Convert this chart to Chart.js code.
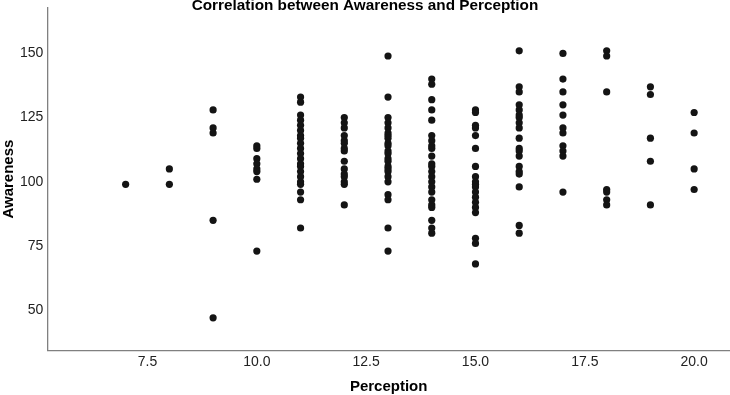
<!DOCTYPE html>
<html>
<head>
<meta charset="utf-8">
<script src="https://cdn.jsdelivr.net/npm/chart.js@4/dist/chart.umd.min.js"></script>
<style>
  html, body { margin: 0; padding: 0; background: #fff; overflow: hidden; }
  #wrap { width: 730px; height: 395px; }
</style>
</head>
<body>
<div id="wrap"><canvas id="c"></canvas></div>
<script>
const chartTitle = 'Correlation between Awareness and Perception';
const xAxisTitle = 'Perception';
const yAxisTitle = 'Awareness';
const xTickValues = [7.5, 10, 12.5, 15, 17.5, 20];
const yTickValues = [50, 75, 100, 125, 150];

const perceptionLevels = [7, 8, 9, 10, 11, 12, 13, 14, 15, 16, 17, 18, 19, 20];
const awareness7 = [99];
const awareness8 = [105, 99];
const awareness9 = [128, 121, 119, 85, 47];
const awareness10 = [114, 113, 109, 107, 105, 104, 101, 73];
const awareness11 = [133, 131, 126, 124, 122, 120, 118, 117, 115, 113, 111, 109, 107, 106, 104, 102, 100, 99, 96, 93, 82];
const awareness12 = [125, 123, 121, 118, 116, 115, 113, 112, 108, 105, 103, 102, 100, 99, 91];
const awareness13 = [149, 133, 125, 123, 121, 119, 118, 117, 115, 114, 112, 111, 109, 108, 106, 105, 104, 102, 100, 95, 93, 82, 73];
const awareness14 = [140, 138, 132, 128, 124, 118, 116, 114, 113, 110, 107, 106, 104, 102, 100, 98, 96, 93, 91, 90, 85, 82, 80];
const awareness15 = [128, 127, 122, 121, 118, 113, 106, 102, 100, 99, 98, 96, 94, 92, 90, 88, 78, 76, 68];
const awareness16 = [151, 137, 135, 130, 128, 126, 125, 123, 121, 117, 113, 112, 110, 106, 104, 103, 98, 83, 80];
const awareness17 = [150, 140, 135, 130, 126, 121, 119, 114, 112, 110, 96];
const awareness18 = [151, 149, 135, 97, 96, 93, 91];
const awareness19 = [137, 134, 117, 108, 91];
const awareness20 = [127, 119, 105, 97];

const awarenessGroups = [awareness7, awareness8, awareness9, awareness10, awareness11, awareness12,
  awareness13, awareness14, awareness15, awareness16, awareness17, awareness18, awareness19, awareness20];

const points = [];
perceptionLevels.forEach((p, i) => {
  awarenessGroups[i].forEach(a => points.push({ x: p, y: a }));
});

const FONT = "'Liberation Sans', Arial, sans-serif";

new Chart(document.getElementById('c'), {
  type: 'scatter',
  data: {
    datasets: [{
      data: points,
      pointRadius: 3.6,
      pointHoverRadius: 3.6,
      pointBorderWidth: 0,
      backgroundColor: '#141414',
      borderColor: '#141414'
    }]
  },
  options: {
    responsive: true,
    maintainAspectRatio: false,
    animation: false,
    layout: { autoPadding: false, padding: { left: 0, right: 0, top: 0, bottom: 0 } },
    plugins: {
      legend: { display: false },
      tooltip: { enabled: false },
      title: {
        display: true,
        text: chartTitle,
        color: '#000',
        font: { family: FONT, size: 15.3, weight: 'bold', lineHeight: 1 },
        padding: { top: -2, bottom: -5.3 }
      }
    },
    scales: {
      x: {
        type: 'linear',
        min: 5.21,
        max: 20.82,
        grid: { display: false, drawTicks: false },
        border: { display: true, color: '#808080', width: 1.3 },
        afterBuildTicks: (s) => { s.ticks = xTickValues.map(v => ({ value: v })); },
        ticks: {
          padding: 4,
          color: '#222',
          font: { family: FONT, size: 14 },
          callback: (v) => Number(v).toFixed(1)
        },
        title: {
          display: true,
          text: xAxisTitle,
          color: '#000',
          font: { family: FONT, size: 15, weight: 'bold' },
          padding: { top: 3, bottom: -1 }
        }
      },
      y: {
        type: 'linear',
        min: 34.4,
        max: 167.7,
        grid: { display: false, drawTicks: false },
        border: { display: true, color: '#808080', width: 1.3 },
        afterBuildTicks: (s) => { s.ticks = yTickValues.map(v => ({ value: v })); },
        ticks: {
          padding: 4,
          color: '#222',
          font: { family: FONT, size: 14, lineHeight: 0.5 },
          callback: (v) => String(v)
        },
        title: {
          display: true,
          text: yAxisTitle,
          color: '#000',
          font: { family: FONT, size: 15, weight: 'bold' },
          padding: { top: 0, bottom: -2 }
        }
      }
    }
  }
});
</script>
</body>
</html>
